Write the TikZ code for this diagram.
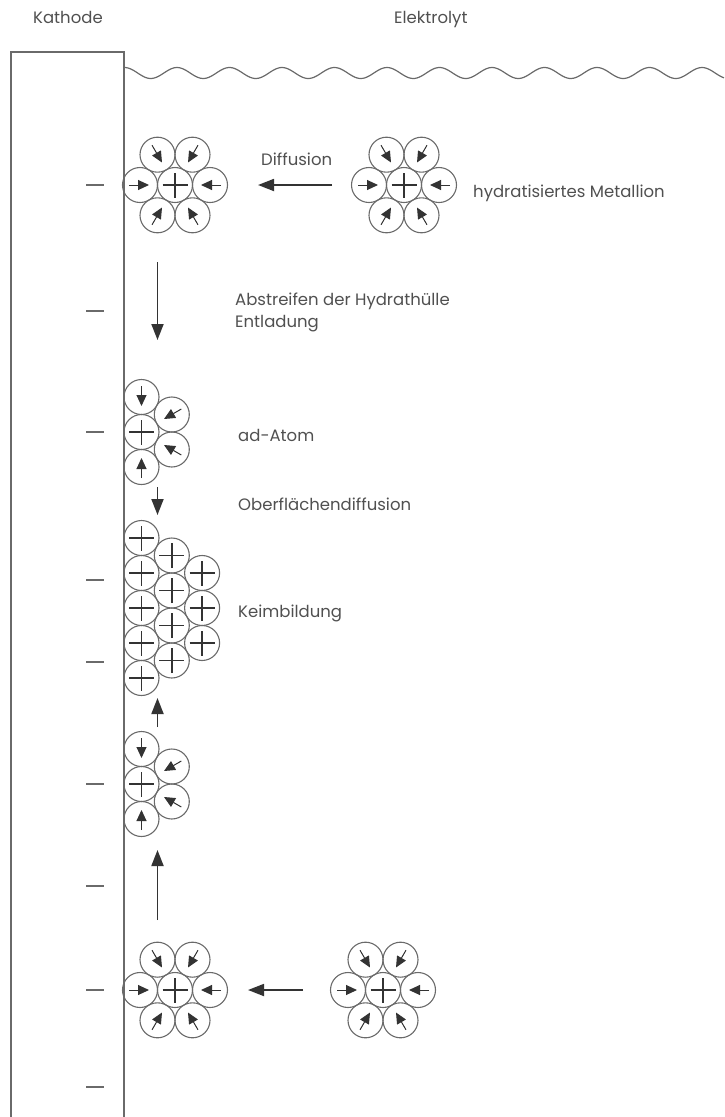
\documentclass[tikz,border=0pt]{standalone}
\usepackage{fontspec}
\setmainfont{Poppins}
\usetikzlibrary{arrows.meta,calc}

\definecolor{linegray}{HTML}{6A6A6A}
\definecolor{inkgray}{HTML}{333333}
\definecolor{textgray}{HTML}{505050}

\tikzset{
  ion/.style={circle, draw=linegray, line width=1.1pt, minimum size=35pt, inner sep=0pt,
    path picture={\draw[inkgray, line width=1.6pt]
      ([xshift=-12.5pt]path picture bounding box.center) -- ([xshift=12.5pt]path picture bounding box.center)
      ([yshift=-12.5pt]path picture bounding box.center) -- ([yshift=12.5pt]path picture bounding box.center);}},
  water/.style={circle, draw=linegray, line width=1.1pt, minimum size=35pt, inner sep=0pt},
  warrow/.style={draw=inkgray, line width=1pt, -{Triangle[length=11pt,width=10pt]}},
  bigarrow/.style={draw=inkgray, line width=1.8pt, -{Triangle[length=16pt,width=12pt]}},
  txt/.style={anchor=base west, inner sep=0pt, text=textgray, font=\fontsize{16.5}{22}\selectfont},
  tickmark/.style={draw=linegray, line width=1.4pt},
  border/.style={draw=linegray, line width=1.5pt},
}

% one water molecule of the hydrate shell, pointing at the ion
\newcommand\waterat[3]{%
  \node[water] (#1) at ($(#2)+(#3:35pt)$) {};
  \draw[warrow] ($(#1)+(#3:11pt)$) -- ($(#1)+(#3+180:9pt)$);
}
% fully hydrated metal ion
\newcommand\hydrated[2]{%
  \node[ion] (#1) at (#2) {};
  \foreach \a in {0,60,120,180,240,300} {\waterat{#1-\a}{#1}{\a}}
}
% ad-atom with the remaining water molecules
\newcommand\adatom[2]{%
  \node[ion] (#1) at (#2) {};
  \foreach \a in {90,30,-30,-90} {\waterat{#1-w\a}{#1}{\a}}
}

\begin{document}
\begin{tikzpicture}[x=1pt, y=-1pt]
\useasboundingbox (0,0) rectangle (724,1117);

% headings
\node[txt] (kathode) at (33,23) {Kathode};
\node[txt] (elektrolyt) at (394,23) {Elektrolyt};

% cathode and electrolyte surface
\draw[border] (11,1117) -- (11,52) -- (124,52) -- (124,1117);
\draw[linegray, line width=1.2pt] plot[domain=124:724, samples=300, smooth]
  (\x, {73-5.5*cos(6.857*(\x-124.5))});

% negative charges of the cathode
\foreach \y in {185,311,432,580,662,784,886,990,1087}
  \draw[tickmark] (86,\y) -- (104,\y);

% hydrated ions, upper row
\hydrated{hl}{175,185}
\hydrated{hr}{404,185}
\coordinate (d1s) at (332,185);
\coordinate (d1e) at (258,185);
\draw[bigarrow] (d1s) -- (d1e);
\node[txt] (diff) at (261,165) {Diffusion};
\node[txt] (metallion) at (473,197) {hydratisiertes Metallion};

% stripping of the hydrate shell
\coordinate (v1s) at (157.5,262);
\coordinate (v1e) at (157.5,340);
\draw[bigarrow] (v1s) -- (v1e);
\node[txt] (abstr) at (235,305) {Abstreifen der Hydrathülle};
\node[txt] (entl) at (235,327) {Entladung};

% ad-atom
\adatom{aa}{141.5,432}
\node[txt] (adatom) at (238,441) {ad-Atom};

\coordinate (v2s) at (157.5,487);
\coordinate (v2e) at (157.5,515);
\draw[bigarrow] (v2s) -- (v2e);
\node[txt] (ofd) at (238,510) {Oberflächendiffusion};

% nucleus
\foreach \k in {0,...,4} \node[ion] (na\k) at (141.5,538+35*\k) {};
\foreach \k in {0,...,3} \node[ion] (nb\k) at (171.8,555.5+35*\k) {};
\foreach \k in {0,...,2} \node[ion] (nc\k) at (202.1,573+35*\k) {};
\node[txt] (keim) at (238,617) {Keimbildung};

\coordinate (v3s) at (157.5,727);
\coordinate (v3e) at (157.5,698);
\draw[bigarrow] (v3s) -- (v3e);

% second ad-atom
\adatom{ab}{141.5,784}

\coordinate (v4s) at (157.5,920);
\coordinate (v4e) at (157.5,850);
\draw[bigarrow] (v4s) -- (v4e);

% hydrated ions, lower row
\hydrated{bl}{175,990}
\hydrated{br}{383,990}
\coordinate (d2s) at (303,990);
\coordinate (d2e) at (248,990);
\draw[bigarrow] (d2s) -- (d2e);
\end{tikzpicture}
\end{document}
